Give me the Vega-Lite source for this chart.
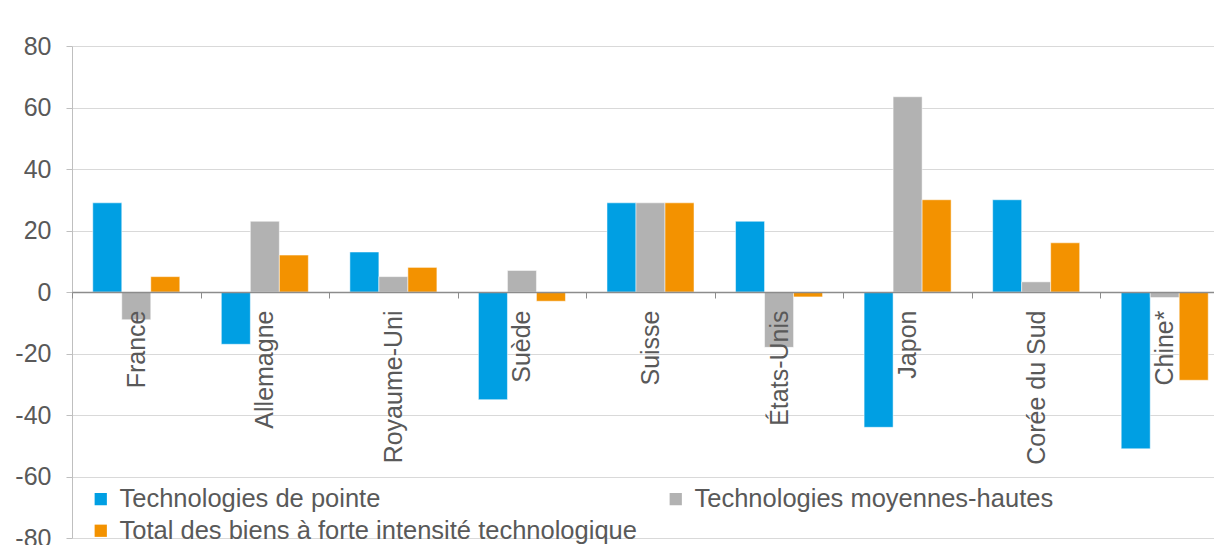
{
  "$schema": "https://vega.github.io/schema/vega-lite/v6.json",
  "width": 1142,
  "height": 492,
  "autosize": {"type": "none"},
  "padding": {"left": 72, "top": 46, "right": 0, "bottom": 7},
  "background": "white",
  "config": {
    "view": {"stroke": null},
    "font": "Liberation Sans"
  },
  "data": {
    "values": [
      {"pays": "France", "serie": "Technologies de pointe", "valeur": 29},
      {"pays": "France", "serie": "Technologies moyennes-hautes", "valeur": -9},
      {"pays": "France", "serie": "Total des biens à forte intensité technologique", "valeur": 5},
      {"pays": "Allemagne", "serie": "Technologies de pointe", "valeur": -17},
      {"pays": "Allemagne", "serie": "Technologies moyennes-hautes", "valeur": 23},
      {"pays": "Allemagne", "serie": "Total des biens à forte intensité technologique", "valeur": 12},
      {"pays": "Royaume-Uni", "serie": "Technologies de pointe", "valeur": 13},
      {"pays": "Royaume-Uni", "serie": "Technologies moyennes-hautes", "valeur": 5},
      {"pays": "Royaume-Uni", "serie": "Total des biens à forte intensité technologique", "valeur": 8},
      {"pays": "Suède", "serie": "Technologies de pointe", "valeur": -35},
      {"pays": "Suède", "serie": "Technologies moyennes-hautes", "valeur": 7},
      {"pays": "Suède", "serie": "Total des biens à forte intensité technologique", "valeur": -3},
      {"pays": "Suisse", "serie": "Technologies de pointe", "valeur": 29},
      {"pays": "Suisse", "serie": "Technologies moyennes-hautes", "valeur": 29},
      {"pays": "Suisse", "serie": "Total des biens à forte intensité technologique", "valeur": 29},
      {"pays": "États-Unis", "serie": "Technologies de pointe", "valeur": 23},
      {"pays": "États-Unis", "serie": "Technologies moyennes-hautes", "valeur": -18},
      {"pays": "États-Unis", "serie": "Total des biens à forte intensité technologique", "valeur": -1.6},
      {"pays": "Japon", "serie": "Technologies de pointe", "valeur": -44},
      {"pays": "Japon", "serie": "Technologies moyennes-hautes", "valeur": 63.5},
      {"pays": "Japon", "serie": "Total des biens à forte intensité technologique", "valeur": 30},
      {"pays": "Corée du Sud", "serie": "Technologies de pointe", "valeur": 30},
      {"pays": "Corée du Sud", "serie": "Technologies moyennes-hautes", "valeur": 3.3},
      {"pays": "Corée du Sud", "serie": "Total des biens à forte intensité technologique", "valeur": 16},
      {"pays": "Chine*", "serie": "Technologies de pointe", "valeur": -51},
      {"pays": "Chine*", "serie": "Technologies moyennes-hautes", "valeur": -1.8},
      {"pays": "Chine*", "serie": "Total des biens à forte intensité technologique", "valeur": -28.7}
    ]
  },
  "mark": {"type": "bar", "stroke": "white", "strokeWidth": 0.5},
  "encoding": {
    "x": {
      "field": "pays",
      "type": "nominal",
      "sort": null,
      "scale": {"range": [0, 1157], "paddingInner": 0, "paddingOuter": 0},
      "axis": {
        "title": null,
        "orient": "bottom",
        "offset": -246,
        "zindex": 1,
        "domainColor": "#8c8c8c",
        "domainWidth": 1.5,
        "tickColor": "#8c8c8c",
        "tickSize": 6,
        "tickBand": "extent",
        "labelAngle": -90,
        "labelAlign": "right",
        "labelBaseline": "middle",
        "labelFontSize": 25,
        "labelColor": "#595959",
        "labelPadding": 12,
        "labelOverlap": false,
        "labelLimit": 0
      }
    },
    "xOffset": {
      "field": "serie",
      "sort": ["Technologies de pointe", "Technologies moyennes-hautes", "Total des biens à forte intensité technologique"],
      "scale": {"paddingInner": 0, "paddingOuter": 0.716}
    },
    "y": {
      "field": "valeur",
      "type": "quantitative",
      "scale": {"domain": [-80, 80], "nice": false},
      "axis": {
        "title": null,
        "values": [-80, -60, -40, -20, 0, 20, 40, 60, 80],
        "labelExpr": "'' + datum.value",
        "grid": true,
        "gridColor": "#d9d9d9",
        "gridWidth": 1.2,
        "domainColor": "#bfbfbf",
        "tickColor": "#bfbfbf",
        "tickSize": 6,
        "labelFontSize": 25,
        "labelColor": "#595959",
        "labelPadding": 15
      }
    },
    "color": {
      "field": "serie",
      "type": "nominal",
      "scale": {
        "domain": ["Technologies de pointe", "Technologies moyennes-hautes", "Total des biens à forte intensité technologique"],
        "range": ["#009fe3", "#b2b2b2", "#f39200"]
      },
      "legend": {
        "title": null,
        "orient": "none",
        "direction": "horizontal",
        "legendX": 16,
        "legendY": 440,
        "columns": 2,
        "columnPadding": 26,
        "rowPadding": 5,
        "symbolType": "square",
        "symbolSize": 150,
        "symbolStrokeWidth": 0,
        "labelFontSize": 25.5,
        "labelColor": "#595959",
        "labelOffset": 6,
        "labelLimit": 0
      }
    }
  }
}
